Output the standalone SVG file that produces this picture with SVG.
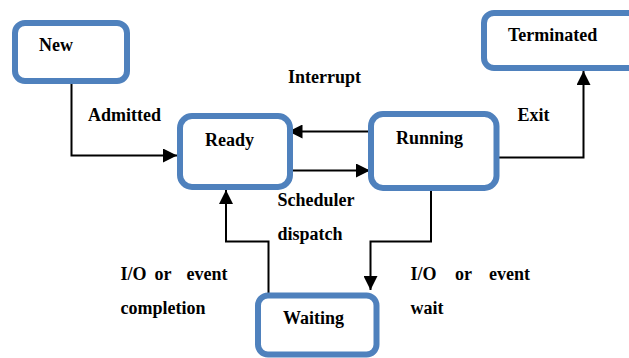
<svg xmlns="http://www.w3.org/2000/svg" width="629" height="358" viewBox="0 0 629 358">
<style>
.box{fill:#fff;stroke:#4F81BD;stroke-width:6}
.t{font-family:"Liberation Serif","Times New Roman",serif;font-weight:bold;font-size:18px;fill:#000}
.c{fill:none;stroke:#000;stroke-width:2}
</style>
<defs>
<marker id="ah" viewBox="0 0 14 14" refX="14" refY="7" markerWidth="14" markerHeight="14" markerUnits="userSpaceOnUse" orient="auto">
<path d="M0,0 L14,7 L0,14 Z" fill="#000"/>
</marker>
</defs>
<rect width="629" height="358" fill="#fff"/>
<g id="connectors">
<path class="c" d="M71.5,83 V155.5 H177" marker-end="url(#ah)"/>
<path class="c" d="M368,131.5 H288.5" marker-end="url(#ah)"/>
<path class="c" d="M290,170.5 H370" marker-end="url(#ah)"/>
<path class="c" d="M499,157.5 H583.5 V71" marker-end="url(#ah)"/>
<path class="c" d="M431,191 V241.5 H370.5 V290" marker-end="url(#ah)"/>
<path class="c" d="M268.5,293 V241.5 H226 V190" marker-end="url(#ah)"/>
</g>
<g id="node-new">
<rect class="box" x="15" y="23" width="112" height="58" rx="10"/>
<text class="t" x="39" y="51">New</text>
</g>
<g id="node-ready">
<rect class="box" x="180" y="116" width="110" height="71" rx="12"/>
<text class="t" x="205" y="146">Ready</text>
</g>
<g id="node-running">
<rect class="box" x="371" y="114" width="125.5" height="74" rx="12"/>
<text class="t" x="396" y="144">Running</text>
</g>
<g id="node-terminated">
<rect class="box" x="484" y="13" width="160" height="55" rx="10"/>
<text class="t" x="508" y="41">Terminated</text>
</g>
<g id="node-waiting">
<rect class="box" x="258" y="295.5" width="118.5" height="59" rx="10"/>
<text class="t" x="283" y="324">Waiting</text>
</g>
<g id="labels">
<text class="t" x="88" y="121">Admitted</text>
<text class="t" x="288" y="83">Interrupt</text>
<text class="t" x="517.5" y="121">Exit</text>
<text class="t" x="277.5" y="206">Scheduler</text>
<text class="t" x="277.5" y="239.5">dispatch</text>
<text class="t" x="120.5" y="280"><tspan x="120.5">I/O</tspan><tspan x="154.5">or</tspan><tspan x="186.5">event</tspan></text>
<text class="t" x="120.5" y="314">completion</text>
<text class="t" x="410.5" y="280"><tspan x="410.5">I/O</tspan><tspan x="455">or</tspan><tspan x="489">event</tspan></text>
<text class="t" x="410.5" y="314">wait</text>
</g>
</svg>
